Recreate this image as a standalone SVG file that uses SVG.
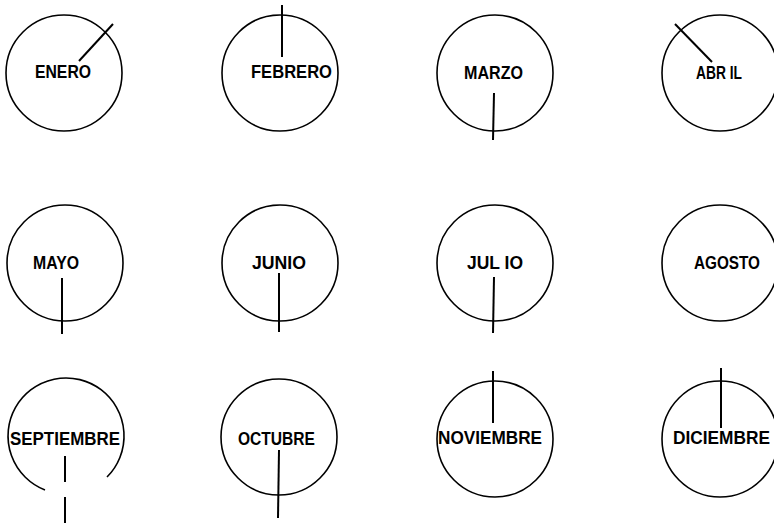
<svg xmlns="http://www.w3.org/2000/svg" width="774" height="523" viewBox="0 0 774 523">
<style>
.c{fill:none;stroke:#000;stroke-width:1.6}
.h{stroke:#000;stroke-width:2;fill:none;stroke-linecap:butt}
text{font-family:"Liberation Sans",Arial,sans-serif;font-size:18px;fill:#000;font-weight:bold}
</style>
<rect width="774" height="523" fill="#fff"/>
<g id="enero"><circle class="c" cx="64" cy="73" r="58"/><text x="35" y="78" textLength="56" lengthAdjust="spacingAndGlyphs">ENERO</text></g>
<g id="febrero"><circle class="c" cx="280" cy="73" r="58"/><text x="251" y="78" textLength="81" lengthAdjust="spacingAndGlyphs">FEBRERO</text></g>
<g id="marzo"><circle class="c" cx="495" cy="73" r="58"/><text x="464" y="79" textLength="59" lengthAdjust="spacingAndGlyphs">MARZO</text></g>
<g id="abril"><circle class="c" cx="720" cy="73" r="58"/><text x="696" y="79" textLength="46" lengthAdjust="spacingAndGlyphs">ABR IL</text></g>
<g id="mayo"><circle class="c" cx="65" cy="263" r="58"/><text x="33" y="269" textLength="46" lengthAdjust="spacingAndGlyphs">MAYO</text></g>
<g id="junio"><circle class="c" cx="280" cy="263" r="58"/><text x="252" y="269" textLength="54" lengthAdjust="spacingAndGlyphs">JUNIO</text></g>
<g id="julio"><circle class="c" cx="495" cy="263" r="58"/><text x="467" y="269" textLength="56" lengthAdjust="spacingAndGlyphs">JUL IO</text></g>
<g id="agosto"><circle class="c" cx="720" cy="263" r="58"/><text x="694" y="269" textLength="66" lengthAdjust="spacingAndGlyphs">AGOSTO</text></g>
<g id="septiembre"><path class="c" d="M107,477 A58,58 0 1 0 45,490"/><text x="10" y="445" textLength="110" lengthAdjust="spacingAndGlyphs">SEPTIEMBRE</text></g>
<g id="octubre"><circle class="c" cx="279" cy="437" r="58"/><text x="238" y="445" textLength="77" lengthAdjust="spacingAndGlyphs">OCTUBRE</text></g>
<g id="noviembre"><circle class="c" cx="495" cy="439" r="58"/><text x="438" y="444" textLength="104" lengthAdjust="spacingAndGlyphs">NOVIEMBRE</text></g>
<g id="diciembre"><circle class="c" cx="720" cy="439" r="58"/><text x="673" y="444" textLength="97" lengthAdjust="spacingAndGlyphs">DICIEMBRE</text></g>
<g id="hands">
<line class="h" x1="79" y1="61" x2="113" y2="24"/>
<line class="h" x1="282" y1="5" x2="282" y2="57"/>
<line class="h" x1="494" y1="93" x2="493" y2="140"/>
<line class="h" x1="675" y1="24" x2="712" y2="62"/>
<line class="h" x1="62" y1="278" x2="62" y2="334"/>
<line class="h" x1="279" y1="273" x2="279" y2="332"/>
<line class="h" x1="494" y1="277" x2="493" y2="333"/>
<line class="h" x1="65" y1="456" x2="65" y2="482"/>
<line class="h" x1="65" y1="497" x2="65" y2="523"/>
<line class="h" x1="279" y1="450" x2="278" y2="518"/>
<line class="h" x1="493" y1="371" x2="493" y2="423"/>
<line class="h" x1="721" y1="368" x2="721" y2="428"/>
</g>
</svg>
